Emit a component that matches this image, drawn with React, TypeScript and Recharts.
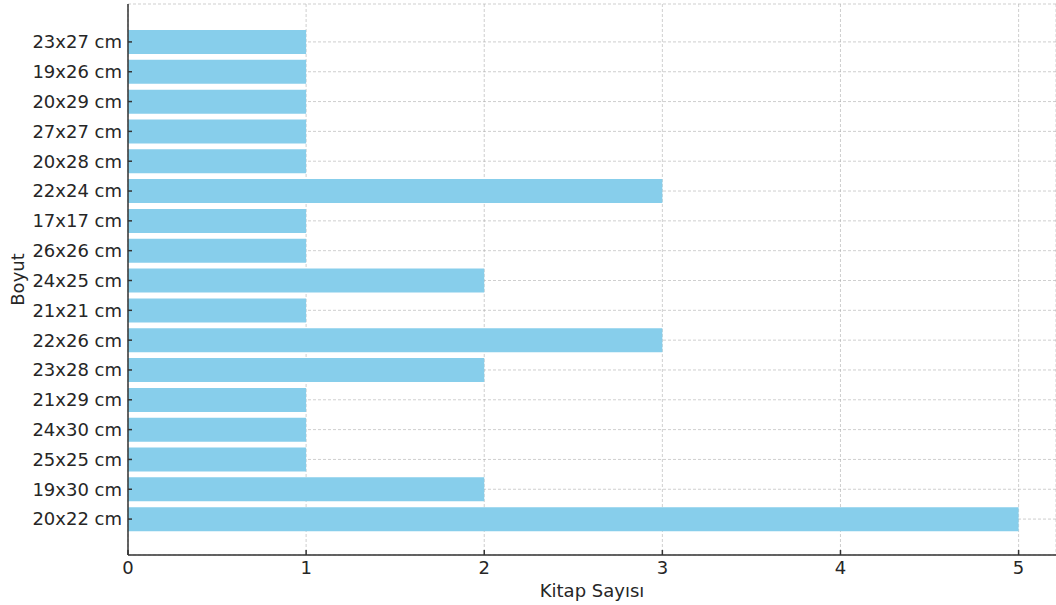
import { Bar, BarChart, CartesianGrid, Label, XAxis, YAxis } from "recharts";

const sizes = [
  "23x27 cm",
  "19x26 cm",
  "20x29 cm",
  "27x27 cm",
  "20x28 cm",
  "22x24 cm",
  "17x17 cm",
  "26x26 cm",
  "24x25 cm",
  "21x21 cm",
  "22x26 cm",
  "23x28 cm",
  "21x29 cm",
  "24x30 cm",
  "25x25 cm",
  "19x30 cm",
  "20x22 cm",
];
const bookCounts = [1, 1, 1, 1, 1, 3, 1, 1, 2, 1, 3, 2, 1, 1, 1, 2, 5];
const xTicks = [0, 1, 2, 3, 4, 5];

const data = sizes.map((size, i) => ({ size, count: bookCounts[i] }));

const FONT = "'DejaVu Sans', sans-serif";
const TEXT_COLOR = "#262626";
const AXIS_COLOR = "#333333";
const TICK_STYLE = { fill: TEXT_COLOR, fontSize: 18, fontFamily: FONT };

export default function App() {
  return (
    <div
      style={{
        position: "absolute",
        top: 0,
        left: 0,
        width: 1056,
        height: 605,
        overflow: "hidden",
        background: "#fff",
      }}
    >
      <BarChart
        width={1056}
        height={605}
        data={data}
        layout="vertical"
        margin={{ top: 4, right: 0, bottom: 0, left: 28 }}
      >
        <Bar dataKey="count" fill="#87ceeb" barSize={24} isAnimationActive={false} />
        {/* grid sits over the bars, faintly, like the original */}
        <CartesianGrid stroke="#a8a8a8" strokeOpacity={0.55} strokeDasharray="3 2" />
        <XAxis
          type="number"
          domain={[0, 5.21]}
          ticks={xTicks}
          allowDataOverflow
          height={50}
          stroke={AXIS_COLOR}
          strokeWidth={1.5}
          tickSize={-5}
          tickMargin={11}
          tick={TICK_STYLE}
        >
          <Label
            value="Kitap Sayısı"
            position="insideBottom"
            offset={8}
            style={{ fill: TEXT_COLOR, fontSize: 18, fontFamily: FONT }}
          />
        </XAxis>
        <YAxis
          type="category"
          dataKey="size"
          width={100}
          padding={{ top: 23, bottom: 21 }}
          stroke={AXIS_COLOR}
          strokeWidth={1.5}
          tickSize={-4}
          tickMargin={10}
          interval={0}
          tick={TICK_STYLE}
        >
          <Label
            content={({ viewBox }: any) => {
              const cx = 17;
              const cy = viewBox.y + viewBox.height / 2;
              return (
                <text
                  x={cx}
                  y={cy}
                  transform={`rotate(-90, ${cx}, ${cy})`}
                  textAnchor="middle"
                  dominantBaseline="central"
                  fill={TEXT_COLOR}
                  fontSize={18}
                  fontFamily={FONT}
                >
                  Boyut
                </text>
              );
            }}
          />
        </YAxis>
      </BarChart>
    </div>
  );
}
